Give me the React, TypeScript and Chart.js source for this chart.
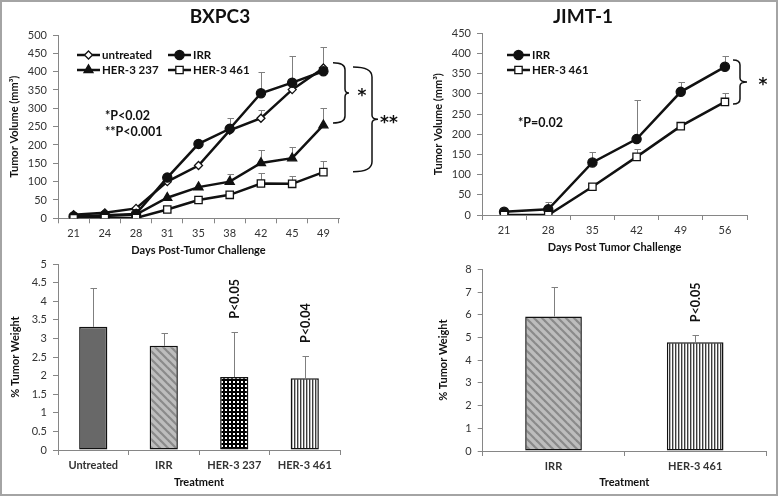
import React, { useEffect, useRef } from "react";
import { Chart, registerables } from "chart.js";
Chart.register(...registerables);

const FONT = "Lato, 'Open Sans', 'DejaVu Sans', sans-serif";
const AXIS = "#868686";
const TICK = "#333333";
const INK = "#111111";
const ERR = "#7f7f7f";

// ---------- BXPC3 tumor volume ----------
const bxDays = ["21", "24", "28", "31", "35", "38", "42", "45", "49"];
const bxUntreated = [10, 15, 27, 100, 144, 240, 273, 351, 410];
const bxUntreatedErr = [0, 0, 0, 0, 0, 0, 23, 0, 0];
const bxIRR = [5, 8, 12, 111, 203, 244, 341, 370, 401];
const bxIRRErr = [0, 0, 0, 0, 0, 30, 59, 73, 65];
const bx237 = [4, 6, 10, 56, 85, 100, 151, 164, 254];
const bx237Err = [0, 0, 0, 0, 0, 21, 34, 30, 47];
const bx461 = [0, 1, 1, 24, 50, 64, 95, 94, 126];
const bx461Err = [0, 0, 0, 0, 0, 0, 28, 21, 29];
const bxYMax = 500;
const bxYStep = 50;

// ---------- JIMT-1 tumor volume ----------
const jmDays = ["21", "28", "35", "42", "49", "56"];
const jmIRR = [8, 14, 130, 188, 305, 367];
const jmIRRErr = [0, 17, 25, 97, 24, 27];
const jm461 = [0, 0, 70, 144, 220, 280];
const jm461Err = [0, 0, 0, 19, 0, 21];
const jmYMax = 450;
const jmYStep = 50;

// ---------- % tumor weight ----------
const bxTreat = ["Untreated", "IRR", "HER-3 237", "HER-3 461"];
const bxWeight = [3.31, 2.8, 1.96, 1.93];
const bxWeightErr = [1.04, 0.35, 1.22, 0.6];
const bxPLabels = ["", "", "P<0.05", "P<0.04"];
const bxWMax = 5;
const bxWStep = 0.5;

const jmTreat = ["IRR", "HER-3 461"];
const jmWeight = [5.92, 4.79];
const jmWeightErr = [1.28, 0.31];
const jmPLabels = ["", "P<0.05"];
const jmWMax = 8;
const jmWStep = 1;

// ---------- helpers ----------
function drawMarker(ctx: CanvasRenderingContext2D, style: string, x: number, y: number, r: number, fill: string) {
  ctx.beginPath();
  if (style === "circle") {
    ctx.arc(x, y, r, 0, Math.PI * 2);
  } else if (style === "triangle") {
    let a = 0;
    for (let k = 0; k < 3; k++) {
      const px = x + Math.sin(a) * r, py = y - Math.cos(a) * r;
      if (k === 0) ctx.moveTo(px, py); else ctx.lineTo(px, py);
      a += (2 * Math.PI) / 3;
    }
    ctx.closePath();
  } else if (style === "rect") {
    const s = r * Math.SQRT1_2;
    ctx.rect(x - s, y - s, 2 * s, 2 * s);
  } else if (style === "rectRot") {
    ctx.moveTo(x, y - r); ctx.lineTo(x + r, y); ctx.lineTo(x, y + r); ctx.lineTo(x - r, y); ctx.closePath();
  }
  ctx.fillStyle = fill;
  ctx.fill();
  ctx.lineWidth = 1.3;
  ctx.strokeStyle = INK;
  ctx.stroke();
}

function txt(ctx: CanvasRenderingContext2D, s: string, x: number, y: number, size: number, align: CanvasTextAlign = "left", rot = 0, family = FONT) {
  ctx.save();
  ctx.font = `bold ${size}px ${family}`;
  ctx.fillStyle = INK;
  ctx.textAlign = align;
  ctx.textBaseline = "middle";
  ctx.translate(x, y);
  if (rot) ctx.rotate(rot);
  ctx.fillText(s, 0, 0);
  ctx.restore();
}

function drawErrorBars(chart: any, errs: number[][]) {
  const ctx: CanvasRenderingContext2D = chart.ctx;
  const ys = chart.scales.y;
  ctx.save();
  ctx.strokeStyle = ERR;
  ctx.lineWidth = 1;
  chart.data.datasets.forEach((ds: any, di: number) => {
    const meta = chart.getDatasetMeta(di);
    const e = errs[di];
    if (!e) return;
    ds.data.forEach((v: number, i: number) => {
      if (!e[i]) return;
      const x = Math.round(meta.data[i].x) + 0.5;
      const y0 = ys.getPixelForValue(v);
      const y1 = Math.round(ys.getPixelForValue(v + e[i])) + 0.5;
      ctx.beginPath();
      ctx.moveTo(x, y0);
      ctx.lineTo(x, y1);
      ctx.moveTo(x - 3, y1);
      ctx.lineTo(x + 3.5, y1);
      ctx.stroke();
    });
  });
  ctx.restore();
}

function bracket(ctx: CanvasRenderingContext2D, xL: number, xR: number, tip: number, yT: number, yB: number, r: number) {
  const yM = (yT + yB) / 2;
  ctx.save();
  ctx.strokeStyle = INK;
  ctx.lineWidth = 1.5;
  ctx.beginPath();
  ctx.moveTo(xL, yT);
  ctx.quadraticCurveTo(xR, yT, xR, yT + r);
  ctx.lineTo(xR, yM - 4);
  ctx.quadraticCurveTo(xR, yM, tip, yM);
  ctx.quadraticCurveTo(xR, yM, xR, yM + 4);
  ctx.lineTo(xR, yB - r);
  ctx.quadraticCurveTo(xR, yB, xL, yB);
  ctx.stroke();
  ctx.restore();
}

function drawLegend(chart: any, pos: number[][]) {
  const ctx: CanvasRenderingContext2D = chart.ctx;
  chart.data.datasets.forEach((ds: any, i: number) => {
    const [x, y] = pos[i];
    ctx.save();
    ctx.strokeStyle = INK;
    ctx.lineWidth = 2.5;
    ctx.beginPath();
    ctx.moveTo(x, y);
    ctx.lineTo(x + 23, y);
    ctx.stroke();
    drawMarker(ctx, ds.pointStyle, x + 11.5, y, ds.pointRadius, ds.pointBackgroundColor);
    ctx.restore();
    txt(ctx, ds.label, x + 25, y, 11.5);
  });
}

function pLabels(chart: any, labels: string[], errs: number[]) {
  const ctx: CanvasRenderingContext2D = chart.ctx;
  const ys = chart.scales.y;
  const meta = chart.getDatasetMeta(0);
  const vals = chart.data.datasets[0].data;
  labels.forEach((s, i) => {
    if (!s) return;
    const x = meta.data[i].x;
    const y = ys.getPixelForValue(vals[i] + errs[i]) - 13;
    txt(ctx, s, x + 1, y, 12.5, "left", -Math.PI / 2);
  });
}

function pattern(w: number, h: number, draw: (g: CanvasRenderingContext2D) => void) {
  const c = document.createElement("canvas");
  c.width = w;
  c.height = h;
  const g = c.getContext("2d")!;
  draw(g);
  return g.createPattern(c, "repeat");
}

function makePatterns() {
  const diag = pattern(8, 8, (g) => {
    g.fillStyle = "#bdbdbd";
    g.fillRect(0, 0, 8, 8);
    g.strokeStyle = "#8a8a8a";
    g.lineWidth = 2.2;
    for (const o of [-8, 0, 8]) {
      g.beginPath();
      g.moveTo(o - 1, -1);
      g.lineTo(o + 9, 9);
      g.stroke();
    }
  });
  const dots = pattern(4, 4, (g) => {
    g.fillStyle = "#000";
    g.fillRect(0, 0, 4, 4);
    g.fillStyle = "#fff";
    g.fillRect(1, 1, 2, 2);
  });
  const vert = pattern(3, 1, (g) => {
    g.fillStyle = "#fff";
    g.fillRect(0, 0, 3, 1);
    g.fillStyle = "#3c3c3c";
    g.fillRect(0, 0, 1, 1);
    g.fillStyle = "#b4b4b4";
    g.fillRect(1, 0, 1, 1);
  });
  return { solid: "#686868", diag, dots, vert };
}

function yScale(max: number, step: number, title: string, titlePad: number) {
  return {
    min: 0,
    max,
    ticks: {
      stepSize: step,
      padding: 6,
      color: TICK,
      font: { family: FONT, size: 11 },
      callback: (v: any) => String(Math.round(Number(v) * 100) / 100),
    },
    grid: { drawOnChartArea: false, color: AXIS, tickLength: 5 },
    border: { color: AXIS, width: 1 },
    title: {
      display: true,
      text: title,
      color: INK,
      font: { family: FONT, size: 11, weight: "bold" },
      padding: { top: titlePad, bottom: 0 },
    },
    afterFit: (s: any) => {
      s.width = 54;
    },
  };
}

function xScale(title: string, titlePad: number, boldTicks: boolean) {
  return {
    type: "category",
    offset: true,
    ticks: {
      padding: 3.4,
      color: TICK,
      autoSkip: false,
      maxRotation: 0,
      font: { family: FONT, size: 11, weight: boldTicks ? "bold" : "normal" },
    },
    grid: { offset: true, drawOnChartArea: false, color: AXIS, tickLength: 5 },
    border: { color: AXIS, width: 1 },
    title: {
      display: true,
      text: title,
      color: INK,
      font: { family: FONT, size: 11, weight: "bold" },
      padding: { top: 0, bottom: titlePad },
    },
    afterFit: (s: any) => {
      s.height = 40;
    },
  };
}

function line(label: string, data: number[], style: string, r: number, fill: string, order: number) {
  return {
    label,
    data,
    order,
    borderColor: INK,
    borderWidth: 2.5,
    pointStyle: style,
    pointRadius: r,
    pointBackgroundColor: fill,
    pointBorderColor: INK,
    pointBorderWidth: 1.3,
    tension: 0,
    fill: false,
  };
}

const common = {
  responsive: false,
  animation: false,
  events: [],
  plugins: { legend: { display: false }, tooltip: { enabled: false } },
};

const STAR_FONT = "'DejaVu Sans', sans-serif";

function buildTL() {
  return {
    type: "line",
    data: {
      labels: bxDays,
      datasets: [
        line("untreated", bxUntreated, "rectRot", 4, "#fff", 4),
        line("IRR", bxIRR, "circle", 4.6, INK, 3),
        line("HER-3 237", bx237, "triangle", 5.2, INK, 2),
        line("HER-3 461", bx461, "rect", 5.2, "#fff", 1),
      ],
    },
    options: {
      ...common,
      layout: { padding: { left: 4, top: 35, right: 439, bottom: 237.7 } },
      scales: {
        x: xScale("Days Post-Tumor Challenge", 1.7, false),
        y: yScale(bxYMax, bxYStep, "Tumor Volume (mm³)", 3.4),
      },
    },
    plugins: [
      {
        id: "tlExtras",
        beforeDatasetsDraw: (c: any) => drawErrorBars(c, [bxUntreatedErr, bxIRRErr, bx237Err, bx461Err]),
        afterDraw: (c: any) => {
          const ctx = c.ctx;
          const ys = c.scales.y;
          txt(ctx, "BXPC3", 220, 17, 19, "center");
          drawLegend(c, [[77, 55], [168, 55], [77, 70], [168, 70]]);
          txt(ctx, "*P<0.02", 105, 116, 12.5);
          txt(ctx, "**P<0.001", 105, 131.5, 12.5);
          const a1 = ys.getPixelForValue(424), b1 = ys.getPixelForValue(260);
          bracket(ctx, 333, 345, 349, a1, b1, 7);
          txt(ctx, "*", 362, (a1 + b1) / 2 + 4, 17, "center", 0, STAR_FONT);
          const a2 = ys.getPixelForValue(413), b2 = ys.getPixelForValue(127);
          bracket(ctx, 353, 372, 378, a2, b2, 10);
          txt(ctx, "**", 389, (a2 + b2) / 2 + 4, 17, "center", 0, STAR_FONT);
        },
      },
    ],
  };
}

function buildTR() {
  return {
    type: "line",
    data: {
      labels: jmDays,
      datasets: [
        line("IRR", jmIRR, "circle", 4.6, INK, 2),
        line("HER-3 461", jm461, "rect", 5.2, "#fff", 1),
      ],
    },
    options: {
      ...common,
      layout: { padding: { left: 428, top: 33.3, right: 31, bottom: 241 } },
      scales: {
        x: xScale("Days Post Tumor Challenge", 1.4, false),
        y: yScale(jmYMax, jmYStep, "Tumor Volume (mm³)", 3.4),
      },
    },
    plugins: [
      {
        id: "trExtras",
        beforeDatasetsDraw: (c: any) => drawErrorBars(c, [jmIRRErr, jm461Err]),
        afterDraw: (c: any) => {
          const ctx = c.ctx;
          const ys = c.scales.y;
          txt(ctx, "JIMT-1", 583, 17, 19, "center");
          drawLegend(c, [[507, 55], [507, 70]]);
          txt(ctx, "*P=0.02", 518, 123, 12.5);
          const a = ys.getPixelForValue(384), b = ys.getPixelForValue(275);
          bracket(ctx, 733, 740, 747, a, b, 5);
          txt(ctx, "*", 763, (a + b) / 2 + 4, 17, "center", 0, STAR_FONT);
        },
      },
    ],
  };
}

function buildBL(p: any) {
  return {
    type: "bar",
    data: {
      labels: bxTreat,
      datasets: [
        {
          data: bxWeight,
          backgroundColor: [p.solid, p.diag, p.dots, p.vert],
          borderColor: INK,
          borderWidth: 1.5,
          borderSkipped: false,
          barPercentage: 0.4,
          categoryPercentage: 1,
        },
      ],
    },
    options: {
      ...common,
      layout: { padding: { left: 4, top: 264, right: 438, bottom: 6 } },
      scales: {
        x: xScale("Treatment", 1.4, true),
        y: yScale(bxWMax, bxWStep, "% Tumor Weight", 4.4),
      },
    },
    plugins: [
      {
        id: "blExtras",
        afterDatasetsDraw: (c: any) => {
          drawErrorBars(c, [bxWeightErr]);
          pLabels(c, bxPLabels, bxWeightErr);
        },
      },
    ],
  };
}

function buildBR(p: any) {
  return {
    type: "bar",
    data: {
      labels: jmTreat,
      datasets: [
        {
          data: jmWeight,
          backgroundColor: [p.diag, p.vert],
          borderColor: INK,
          borderWidth: 1.5,
          borderSkipped: false,
          barPercentage: 0.4,
          categoryPercentage: 1,
        },
      ],
    },
    options: {
      ...common,
      layout: { padding: { left: 428.7, top: 269.3, right: 12, bottom: 5 } },
      scales: {
        x: xScale("Treatment", 2.4, true),
        y: yScale(jmWMax, jmWStep, "% Tumor Weight", 7.7),
      },
    },
    plugins: [
      {
        id: "brExtras",
        afterDatasetsDraw: (c: any) => {
          drawErrorBars(c, [jmWeightErr]);
          pLabels(c, jmPLabels, jmWeightErr);
        },
      },
    ],
  };
}

function Layer({ build }: { build: (p: any) => any }) {
  const ref = useRef<HTMLCanvasElement>(null);
  useEffect(() => {
    const p = makePatterns();
    const chart = new Chart(ref.current as HTMLCanvasElement, build(p) as any);
    return () => chart.destroy();
  }, []);
  return (
    <canvas
      ref={ref}
      width={778}
      height={496}
      style={{ position: "absolute", left: 0, top: 0, width: 778, height: 496, pointerEvents: "none" }}
    />
  );
}

export default function App() {
  return (
    <div style={{ position: "absolute", left: 0, top: 0, width: 778, height: 496, background: "#fff", overflow: "hidden" }}>
      <Layer build={() => buildTL()} />
      <Layer build={() => buildTR()} />
      <Layer build={(p) => buildBL(p)} />
      <Layer build={(p) => buildBR(p)} />
      <div
        style={{
          position: "absolute",
          left: 0,
          top: 0,
          width: 778,
          height: 496,
          boxSizing: "border-box",
          border: "2px solid #a4a4a4",
          pointerEvents: "none",
        }}
      />
    </div>
  );
}
